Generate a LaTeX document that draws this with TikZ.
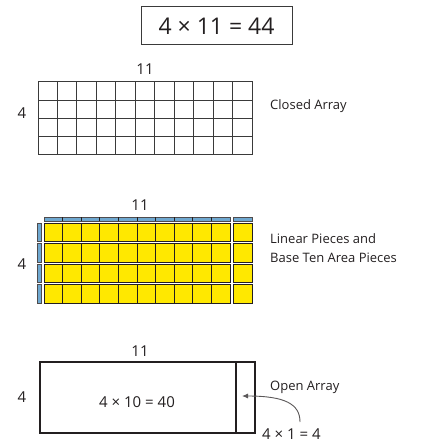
\documentclass[tikz,border=0pt]{standalone}
\usepackage{fontspec}
\setmainfont{Open Sans}
\usetikzlibrary{arrows.meta}
\definecolor{ink}{HTML}{231F20}
\definecolor{lineg}{HTML}{3A3A3A}
\definecolor{piece}{HTML}{FFE800}
\definecolor{rod}{HTML}{6FA8D0}
\tikzset{
  lbl/.style={font=\fontsize{13}{15}\selectfont, text=ink, anchor=west, inner sep=0pt},
  num/.style={font=\fontsize{15}{17}\selectfont, text=ink, inner sep=0pt},
  gridline/.style={draw=lineg, line width=1pt},
  unitsq/.style={draw=ink, fill=piece, line width=1pt},
  rodsty/.style={draw=ink!80, fill=rod, line width=0.7pt},
  outline/.style={draw=ink, line width=1.4pt},
}
\begin{document}
\begin{tikzpicture}[x=1pt,y=1pt]
\useasboundingbox (0,0) rectangle (430,-443);
% title
\node[draw=lineg, line width=1pt, minimum width=151pt, minimum height=38pt, inner sep=0pt,
      font=\fontsize{23}{26}\selectfont, text=ink] (title) at (216.5,-26) {4 × 11 = 44};
% ---------- closed array
\draw[gridline] (38,-82) rectangle (252,-155);
\foreach \xx in {57.45,76.91,96.36,115.82,135.27,154.73,174.18,193.64,213.09,232.55}
  \draw[gridline] (\xx,-82) -- (\xx,-155);
\foreach \yy in {100.25,118.5,136.75}
  \draw[gridline] (38,-\yy) -- (252,-\yy);
\node[num] (c11) at (145,-69) {11};
\node[num] (c4) at (22,-113) {4};
\node[lbl] (closed) at (270,-106) {Closed Array};
% ---------- linear pieces
\draw[rodsty] (44,-217) rectangle (230,-221);
\foreach \xx in {62.6,81.2,99.8,118.4,137,155.6,174.2,192.8,211.4}
  \draw[ink, line width=0.8pt] (\xx,-217) -- (\xx,-221);
\draw[rodsty] (233,-217) rectangle (252,-221);
\foreach \ya/\yb in {223/241.5, 243.5/262, 264/282.5, 284.5/303} {
  \foreach \xa/\xb in {44/62.6,62.6/81.2,81.2/99.8,99.8/118.4,118.4/137,137/155.6,155.6/174.2,174.2/192.8,192.8/211.4,211.4/230}
    \draw[unitsq] (\xa,-\ya) rectangle (\xb,-\yb);
  \draw[unitsq] (233,-\ya) rectangle (252,-\yb);
  \draw[rodsty] (37,-\ya) rectangle (41,-\yb);
}
\node[num] (l11) at (140,-205) {11};
\node[num] (l4) at (22,-264) {4};
\node[lbl] (lin1) at (270,-239) {Linear Pieces and};
\node[lbl] (lin2) at (270,-258) {Base Ten Area Pieces};
% ---------- open array
\draw[outline] (40,-362) rectangle (255,-433);
\draw[outline] (236,-362) -- (236,-433);
\coordinate (tip) at (242,-396);
\node[num] (o11) at (140,-351) {11};
\node[num] (o4) at (22,-397) {4};
\node[font=\fontsize{15}{17}\selectfont, text=ink, inner sep=0pt] (big) at (137,-402) {4 × 10 = 40};
\node[lbl] (open) at (270,-387) {Open Array};
\node[font=\fontsize{15}{17}\selectfont, text=ink, inner sep=0pt, anchor=west] (small) at (262,-434) {4 × 1 = 4};
\draw[-{Latex[length=6pt,width=5pt]}, draw=ink!75, line width=0.9pt]
  (300,-422) .. controls (300,-404) and (285,-396) .. (tip);
\end{tikzpicture}
\end{document}
